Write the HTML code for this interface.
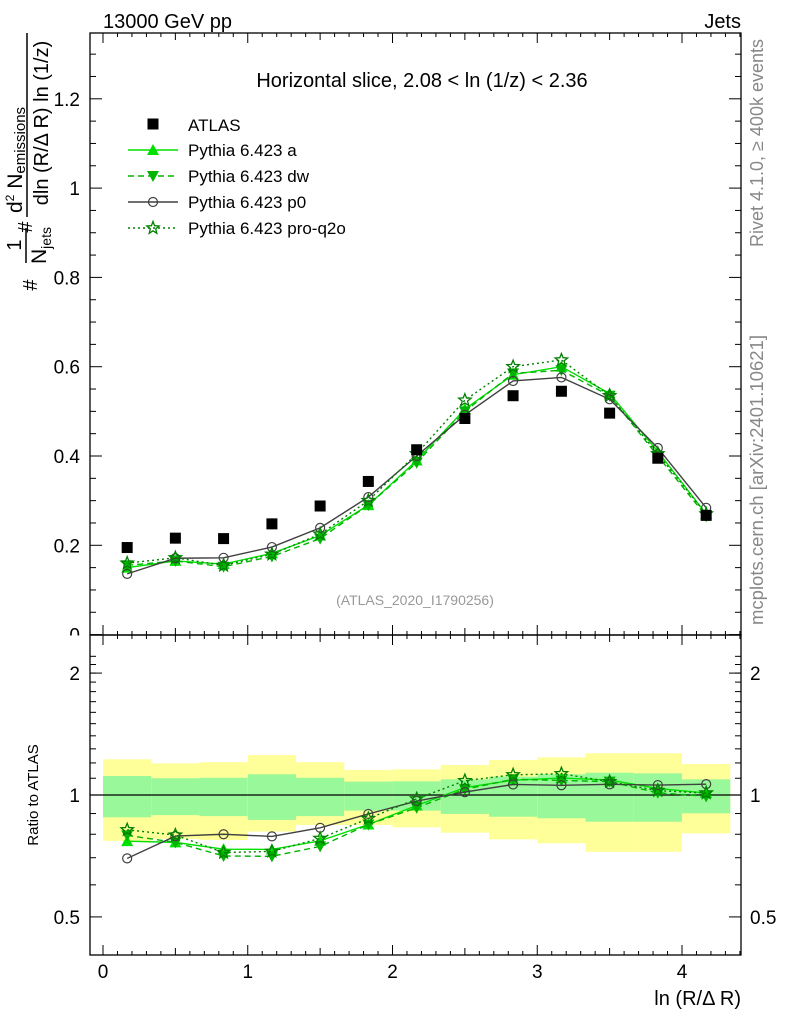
<!DOCTYPE html>
<html><head><meta charset="utf-8"><style>
body{margin:0;background:#fff;}
svg{display:block;font-family:"Liberation Sans",sans-serif;}
</style></head><body>
<svg id="c" width="786" height="1024"></svg>
<script>
const xs=[0.167,0.5,0.833,1.167,1.5,1.833,2.167,2.5,2.833,3.167,3.5,3.833,4.167];
const atlas=[0.195,0.216,0.215,0.248,0.288,0.343,0.414,0.484,0.535,0.545,0.496,0.395,0.267];
const pyA=[0.150,0.165,0.158,0.182,0.222,0.290,0.390,0.505,0.582,0.600,0.540,0.410,0.270];
const pyDW=[0.155,0.165,0.152,0.175,0.215,0.290,0.385,0.500,0.585,0.592,0.535,0.400,0.265];
const pyP0=[0.136,0.171,0.172,0.196,0.239,0.308,0.400,0.492,0.568,0.576,0.527,0.418,0.284];
const pyQ2O=[0.160,0.172,0.155,0.180,0.225,0.300,0.405,0.525,0.600,0.615,0.535,0.405,0.270];
const yelHi=[1.225,1.197,1.205,1.255,1.205,1.153,1.157,1.186,1.22,1.239,1.268,1.268,1.193];
const yelLo=[0.770,0.779,0.774,0.812,0.843,0.843,0.832,0.807,0.777,0.760,0.724,0.724,0.804];
const grnHi=[1.114,1.10,1.103,1.125,1.103,1.079,1.081,1.093,1.11,1.125,1.135,1.131,1.093];
const grnLo=[0.881,0.892,0.887,0.868,0.887,0.915,0.915,0.898,0.884,0.876,0.859,0.859,0.901];
const mainTicks=["0","0.2","0.4","0.6","0.8","1","1.2"];
const xTicks=["0","1","2","3","4"];
const NS="http://www.w3.org/2000/svg";
const svg=document.getElementById('c');
const X=v=>103+v*144.75;
const Y=v=>634.6-v*446.5;
const R=v=>795-Math.log10(v)*405;
const L=90,Rt=741,T1=33,B1=635,B2=955;
function el(tag,a,parent){const e=document.createElementNS(NS,tag);for(const k in a)e.setAttribute(k,a[k]);(parent||svg).appendChild(e);return e;}
function txt(s,a,parent){const e=el('text',a,parent);e.textContent=s;return e;}
// ratio bands
const bands=el('g',{});


xs.forEach((x,i)=>{
 const x0=X(x-1/6),x1=X(x+1/6);
 const y=el('rect',{x:x0,y:R(yelHi[i]),width:x1-x0,height:R(yelLo[i])-R(yelHi[i]),fill:'#ffff99'},bands);
 
 
 const g=el('rect',{x:x0,y:R(grnHi[i]),width:x1-x0,height:R(grnLo[i])-R(grnHi[i]),fill:'#99f899'},bands);
 
 
});
el('line',{x1:L,x2:Rt,y1:R(1),y2:R(1),stroke:'#000','stroke-width':1.3});
// main y tick labels first (0 gets clipped)
mainTicks.forEach(s=>{const t=txt(s,{x:80,y:Y(+s)+7,'font-size':19,'text-anchor':'end'});
 });
el('rect',{x:50,y:635.5,width:39,height:16,fill:'#fff'});
// frames
const f1=el('rect',{x:L,y:T1,width:Rt-L,height:B1-T1,fill:'none',stroke:'#000','stroke-width':1.3});


const f2=el('rect',{x:L,y:B1,width:Rt-L,height:B2-B1,fill:'none',stroke:'#000','stroke-width':1.3});


// x ticks
for(let v=0;v<=4.4;v+=0.1){const k=Math.round(v*10);const big=k%10==0,mid=k%5==0;const len=big?10:(mid?7:4);
 [[T1,1],[B1,-1],[B1,1],[B2,-1]].forEach(([y,d])=>el('line',{x1:X(v),x2:X(v),y1:y,y2:y+d*len,stroke:'#000'}));}
xTicks.forEach((s,i)=>{const t=txt(s,{x:X(+s),y:978,'font-size':19,'text-anchor':'middle'});
 });
// main y ticks
for(let v=0;v<=1.34;v+=0.05){const k=Math.round(v*20);const len=k%4==0?12:6;
 el('line',{x1:L,x2:L+len,y1:Y(v),y2:Y(v),stroke:'#000'});el('line',{x1:Rt,x2:Rt-len,y1:Y(v),y2:Y(v),stroke:'#000'});}
// ratio ticks
[0.4,0.5,0.6,0.7,0.8,0.9,1,2].forEach(v=>{const len=(v==0.5||v==1||v==2)?12:6;const y=R(v);if(y<B1||y>B2)return;
 el('line',{x1:L,x2:L+len,y1:y,y2:y,stroke:'#000'});el('line',{x1:Rt,x2:Rt-len,y1:y,y2:y,stroke:'#000'});});
for(let v=1.1;v<2.3;v+=0.1){const y=R(v);el('line',{x1:L,x2:L+6,y1:y,y2:y,stroke:'#000'});el('line',{x1:Rt,x2:Rt-6,y1:y,y2:y,stroke:'#000'});}
[["2",2],["1",1],["0.5",0.5]].forEach(([s,v])=>{
 const a=txt(s,{x:80,y:R(v)+7,'font-size':19,'text-anchor':'end'});
 const b=txt(s,{x:750,y:R(v)+7,'font-size':19});});
// markers
function marker(type,cx,cy,col,g){
 if(type=='sq')return el('rect',{x:cx-5.5,y:cy-5.5,width:11,height:11,fill:'#000'},g);
 if(type=='up')return el('polygon',{points:`${cx},${cy-6} ${cx-6},${cy+5} ${cx+6},${cy+5}`,fill:col},g);
 if(type=='dn')return el('polygon',{points:`${cx},${cy+6} ${cx-6},${cy-5} ${cx+6},${cy-5}`,fill:col},g);
 if(type=='ci')return el('circle',{cx,cy,r:4.5,fill:'none',stroke:col,'stroke-width':1.2},g);
 if(type=='st'){let p=[];for(let i=0;i<10;i++){const r=i%2?2.8:6.5,a=-Math.PI/2+i*Math.PI/5;p.push((cx+r*Math.cos(a)).toFixed(1)+','+(cy+r*Math.sin(a)).toFixed(1));}
  return el('polygon',{points:p.join(' '),fill:'none',stroke:col,'stroke-width':1.3},g);}
}
const series=[
 {n:'pythia-a',d:pyA,c:'#00e000',m:'up',dash:''},
 {n:'pythia-dw',d:pyDW,c:'#00b400',m:'dn',dash:'6,4'},
 {n:'pythia-p0',d:pyP0,c:'#404040',m:'ci',dash:''},
 {n:'pythia-pro-q2o',d:pyQ2O,c:'#008000',m:'st',dash:'2,3'}];
series.forEach(s=>{
 const g=el('g',{});
 el('polyline',{points:xs.map((x,i)=>X(x)+','+Y(s.d[i])).join(' '),fill:'none',stroke:s.c,'stroke-width':1.4,'stroke-dasharray':s.dash},g);
 xs.forEach((x,i)=>marker(s.m,X(x),Y(s.d[i]),s.c,g));
 const gr=el('g',{});
 el('polyline',{points:xs.map((x,i)=>X(x)+','+R(s.d[i]/atlas[i])).join(' '),fill:'none',stroke:s.c,'stroke-width':1.4,'stroke-dasharray':s.dash},gr);
 xs.forEach((x,i)=>marker(s.m,X(x),R(s.d[i]/atlas[i]),s.c,gr));
});
const ga=el('g',{});
xs.forEach((x,i)=>marker('sq',X(x),Y(atlas[i]),'#000',ga));
// legend
const lg=el('g',{});
marker('sq',153,124,'#000',lg);txt('ATLAS',{x:188,y:131,'font-size':17},lg);
series.forEach((s,i)=>{const y=150+i*26;
 el('line',{x1:128,x2:178,y1:y,y2:y,stroke:s.c,'stroke-width':1.4,'stroke-dasharray':s.dash},lg);
 marker(s.m,153,y,s.c,lg);
 txt(['Pythia 6.423 a','Pythia 6.423 dw','Pythia 6.423 p0','Pythia 6.423 pro-q2o'][i],{x:188,y:y+6,'font-size':17},lg);});
// texts
const add=(s,a,n,p)=>{const t=txt(s,a,p);return t;};
add('13000 GeV pp',{x:103,y:28,'font-size':20},'beam-label');
add('Jets',{x:741,y:28,'font-size':20,'text-anchor':'end'},'process-label');
add('Horizontal slice, 2.08 < ln (1/z) < 2.36',{x:422,y:87,'font-size':20,'text-anchor':'middle'},'plot-title');
add('(ATLAS_2020_I1790256)',{x:415,y:605,'font-size':14,fill:'#999','text-anchor':'middle'},'analysis-id');
add('ln (R/Δ R)',{x:741,y:1005,'font-size':20,'text-anchor':'end'},'x-axis-title');
add('Ratio to ATLAS',{x:0,y:0,'font-size':15,'text-anchor':'middle',transform:'translate(38,795) rotate(-90)'},'ratio-axis-title');
// y-axis title (rotated fraction)
const yt=el('g',{transform:'rotate(-90)'});


add('#',{x:-285,y:37,'font-size':20,'text-anchor':'middle'},'y-title-hash',yt);
add('1',{x:-245,y:21,'font-size':20,'text-anchor':'middle'},'y-title-one',yt);
el('line',{x1:-263,x2:-228,y1:26,y2:26,stroke:'#000','stroke-width':1.5},yt);
const nj=add('N',{x:-264,y:46,'font-size':21},'y-title-njets',yt);
const ts=document.createElementNS(NS,'tspan');ts.setAttribute('font-size','14');ts.setAttribute('dy','5');ts.textContent='jets';nj.appendChild(ts);
add('#',{x:-227,y:32,'font-size':20,'text-anchor':'middle'},'y-title-hash2',yt);
el('line',{x1:-217,x2:-33,y1:27,y2:27,stroke:'#000','stroke-width':1.5},yt);
const nu=add('d',{x:-213,y:22,'font-size':21},'y-title-numerator',yt);
const t1=document.createElementNS(NS,'tspan');t1.setAttribute('font-size','12');t1.setAttribute('dy','-8');t1.textContent='2';nu.appendChild(t1);
const t2=document.createElementNS(NS,'tspan');t2.setAttribute('dy','8');t2.textContent=' N';nu.appendChild(t2);
const t3=document.createElementNS(NS,'tspan');t3.setAttribute('font-size','15');t3.setAttribute('dy','3');t3.textContent='emissions';nu.appendChild(t3);
add('dln (R/Δ R) ln (1/z)',{x:-123,y:48,'font-size':20,'text-anchor':'middle'},'y-title-denominator',yt);
add('Rivet 4.1.0, ≥ 400k events',{x:0,y:0,'font-size':18,fill:'#888','text-anchor':'middle',transform:'translate(763,143) rotate(-90)'},'rivet-label');
add('mcplots.cern.ch [arXiv:2401.10621]',{x:0,y:0,'font-size':18.5,fill:'#888','text-anchor':'middle',transform:'translate(763,480) rotate(-90)'},'mcplots-label');
</script>
</body></html>
